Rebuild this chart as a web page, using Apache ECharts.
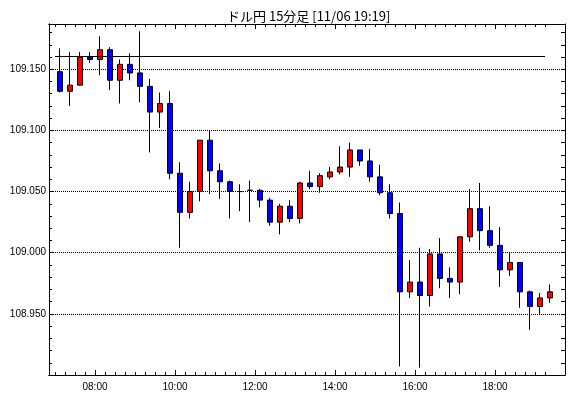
<!DOCTYPE html>
<html><head><meta charset="utf-8">
<script src="https://cdn.jsdelivr.net/npm/echarts@6/dist/echarts.min.js"></script>
<style>html,body{margin:0;padding:0;background:#fff}#c{width:570px;height:398px}</style>
</head><body><div id="c"></div>
<script>
const times = ['07:00','07:15','07:30','07:45','08:00','08:15','08:30','08:45','09:00','09:15',
  '09:30','09:45','10:00','10:15','10:30','10:45','11:00','11:15','11:30','11:45',
  '12:00','12:15','12:30','12:45','13:00','13:15','13:30','13:45','14:00','14:15',
  '14:30','14:45','15:00','15:15','15:30','15:45','16:00','16:15','16:30','16:45',
  '17:00','17:15','17:30','17:45','18:00','18:15','18:30','18:45','19:00','19:15'];
const opens = [109.148,109.132,109.137,109.160,109.158,109.166,109.141,109.154,109.147,109.136,
  109.115,109.122,109.065,109.033,109.050,109.092,109.067,109.058,109.050,109.051,
  109.051,109.043,109.025,109.038,109.028,109.057,109.054,109.062,109.066,109.070,
  109.084,109.075,109.062,109.049,109.032,108.968,108.976,108.965,108.999,108.979,
  108.976,109.013,109.036,109.018,109.006,108.986,108.992,108.968,108.956,108.963];
const closes = [109.132,109.137,109.160,109.158,109.166,109.141,109.154,109.147,109.136,109.115,
  109.122,109.065,109.033,109.050,109.092,109.067,109.058,109.050,109.050,109.051,
  109.043,109.025,109.038,109.028,109.057,109.054,109.063,109.066,109.070,109.084,
  109.075,109.062,109.049,109.032,108.968,108.976,108.965,108.999,108.979,108.976,
  109.013,109.036,109.018,109.006,108.986,108.992,108.968,108.956,108.963,108.968];
const lows = [109.131,109.120,109.137,109.155,109.145,109.133,109.122,109.141,109.123,109.082,
  109.102,109.060,109.004,109.028,109.042,109.048,109.044,109.028,109.034,109.025,
  109.037,109.022,109.015,109.025,109.024,109.052,109.049,109.060,109.064,109.062,
  109.071,109.058,109.047,109.028,108.907,108.963,108.906,108.956,108.971,108.963,
  108.966,109.009,109.002,109.004,108.972,108.981,108.955,108.937,108.950,108.959];
const highs = [109.167,109.164,109.164,109.164,109.177,109.168,109.158,109.163,109.181,109.142,
  109.131,109.132,109.074,109.058,109.092,109.100,109.073,109.059,109.056,109.059,
  109.052,109.045,109.040,109.043,109.058,109.067,109.065,109.070,109.087,109.090,
  109.084,109.085,109.072,109.056,109.041,108.994,109.004,109.003,109.012,108.988,
  109.013,109.052,109.057,109.038,109.021,109.000,108.992,108.969,108.967,108.974];
const refLevel = 109.161;
const refStart = '07:00', refEnd = '19:15';
const yTickLabels = ['108.950','109.000','109.050','109.100','109.150'];
const xTickLabels = ['08:00','10:00','12:00','14:00','16:00','18:00'];
const titleText = 'ドル円 15分足 [11/06 19:19]';

const toHour = s => { const p = s.split(':'); return +p[0] + (+p[1]) / 60; };
const X_MIN = 6.85, X_MAX = 19.75, Y_MIN = 108.9, Y_MAX = 109.187;
const yMajor = yTickLabels.map(Number);
const yMinor = []; for (let k = 1; k < 29; k++) yMinor.push(+(108.9 + k * 0.01).toFixed(2));
const xMajor = xTickLabels.map(toHour);
const xMinor = times.map(toHour);
const candleData = times.map((t, i) => [toHour(t) + 0.125, opens[i], closes[i], lows[i], highs[i]]);
const fmtHour = v => { const h = Math.floor(v + 1e-6), m = Math.round((v - h) * 60); return String(h).padStart(2,'0') + ':' + String(m).padStart(2,'0'); };

const FONT = 'Liberation Sans';
const blk = '#000';
function xAx(pos, ticks, len, labels) {
  return { type: 'value', position: pos, min: X_MIN, max: X_MAX, gridIndex: 0,
    axisLine: { show: true, onZero: false, lineStyle: { color: blk, width: 1 } },
    axisTick: { show: true, inside: true, length: len, customValues: ticks, lineStyle: { color: blk, width: 1 } },
    axisLabel: labels ? { show: true, customValues: xMajor, formatter: fmtHour, color: blk, fontSize: 10, fontFamily: FONT, margin: 7 } : { show: false },
    splitLine: { show: false } };
}
function yAx(pos, ticks, len, labels, split) {
  return { type: 'value', position: pos, min: Y_MIN, max: Y_MAX, gridIndex: 0,
    axisLine: { show: true, onZero: false, lineStyle: { color: blk, width: 1 } },
    axisTick: { show: true, inside: true, length: len, customValues: ticks, lineStyle: { color: blk, width: 1 } },
    axisLabel: labels ? { show: true, customValues: yMajor, formatter: v => v.toFixed(3), color: blk, fontSize: 10, fontFamily: FONT, margin: 3 } : { show: false },
    splitLine: split ? { show: true, lineStyle: { color: blk, type: [1, 1], width: 1 } } : { show: false } };
}

const chart = echarts.init(document.getElementById('c'), null, { renderer: 'canvas' });
chart.setOption({
  animation: false,
  backgroundColor: '#fff',
  title: { text: titleText, left: 222, top: 5, textStyle: { fontSize: 13, fontWeight: 'normal', color: blk, fontFamily: 'Noto Sans CJK JP' } },
  grid: { left: 49, top: 24, width: 516, height: 351, show: false },
  xAxis: [ xAx('bottom', xMajor, 5, true), xAx('bottom', xMinor, 3, false), xAx('top', xMajor, 5, false), xAx('top', xMinor, 3, false) ],
  yAxis: [ yAx('left', yMajor, 4, true, true), yAx('left', yMinor, 3, false, false), yAx('right', yMinor, 4, false, false) ],
  series: [{
    type: 'candlestick', xAxisIndex: 0, yAxisIndex: 0,
    data: candleData, encode: { x: 0, y: [1, 2, 3, 4] },
    barWidth: 6,
    itemStyle: { color: '#ff0000', color0: '#0000ff', borderColor: blk, borderColor0: blk, borderColorDoji: blk, borderWidth: 1 },
    emphasis: { disabled: true },
    markLine: { silent: true, symbol: 'none', label: { show: false }, emphasis: { disabled: true },
      lineStyle: { color: blk, type: 'solid', width: 1 },
      data: [[{ coord: [toHour(refStart), refLevel] }, { coord: [toHour(refEnd), refLevel] }]] }
  }]
});
</script></body></html>
